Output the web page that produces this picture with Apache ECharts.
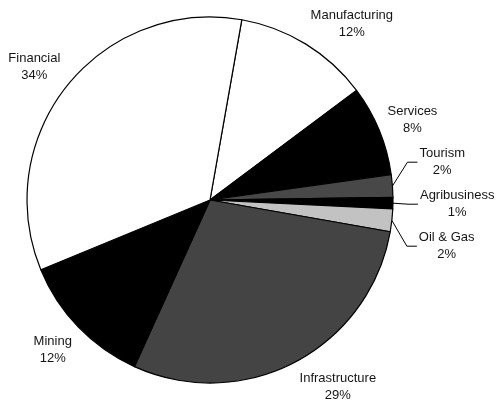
<!DOCTYPE html>
<html>
<head>
<meta charset="utf-8">
<script src="https://cdn.jsdelivr.net/npm/echarts@6/dist/echarts.min.js"></script>
<style>
  html, body { margin: 0; padding: 0; background: #ffffff; }
  #chart { width: 496px; height: 402px; }
</style>
</head>
<body>
<div id="chart"></div>
<script>
// Sector shares of the portfolio, clockwise from just right of 12 o'clock
const sectors = ['Manufacturing', 'Services', 'Tourism', 'Agribusiness', 'Oil & Gas', 'Infrastructure', 'Mining', 'Financial'];
const shares = [12, 8, 2, 1, 2, 29, 12, 34];
const fills = ['#ffffff', '#000000', '#484848', '#000000', '#c2c2c2', '#444444', '#000000', '#ffffff'];

const CX = 210, CY = 200, R = 183, START = 80;
const THIN = 2;          // slices at or below this share get a leader line
const STACK_PITCH = 42;  // vertical spacing of the stacked thin-slice labels

// the thin slices sit next to each other; find where their stack is centred
const thinIdx = shares.map((v, i) => (v <= THIN ? i : -1)).filter(i => i >= 0);
const total = shares.reduce((a, b) => a + b, 0);
const before = shares.slice(0, thinIdx[0]).reduce((a, b) => a + b, 0);
const groupSum = thinIdx.reduce((a, i) => a + shares[i], 0);
const groupMidRad = (90 - START + 360 * (before + groupSum / 2) / total) * Math.PI / 180;
const stackCentreY = CY - R * Math.cos(groupMidRad) + 1;
const stackMid = (thinIdx.length - 1) / 2;

const chart = echarts.init(document.getElementById('chart'), null, { renderer: 'canvas' });

const items = sectors.map((name, i) => ({
  name: name,
  value: shares[i],
  itemStyle: { color: fills[i] },
  labelLine: { show: shares[i] <= THIN }
}));

function layoutLabel(p) {
  const rect = p.labelRect;
  const h = rect.height;
  const k = thinIdx.indexOf(p.dataIndex);
  if (k >= 0 && p.labelLinePoints) {
    // thin slices: elbow leader lines to an evenly spaced stack
    const p0 = p.labelLinePoints[0];
    const y = stackCentreY + (k - stackMid) * STACK_PITCH;
    const x1 = p0[0] + 15;
    const x2 = p0[0] + 25;
    return {
      x: x2 + 2,
      y: y,
      align: 'left',
      verticalAlign: 'middle',
      labelLinePoints: [[p0[0], p0[1]], [x1, y], [x2, y]]
    };
  }
  // other slices: the text box corner nearest the pie sits on the slice's mid ray
  const right = p.align === 'left';
  const ax = right ? rect.x : rect.x + rect.width;
  const ay = rect.y + h / 2;
  const len = Math.hypot(ax - CX, ay - CY) || 1;
  const dirY = (ay - CY) / len;
  const t = Math.max(-1, Math.min(1, dirY * 1.6));
  return { dy: t * h / 2 + 2 };
}

chart.setOption({
  backgroundColor: '#ffffff',
  animation: false,
  series: [{
    type: 'pie',
    center: [CX, CY],
    radius: R,
    startAngle: START,
    clockwise: true,
    avoidLabelOverlap: false,
    data: items,
    itemStyle: { borderColor: '#000000', borderWidth: 1.2 },
    emphasis: { disabled: true },
    label: {
      show: true,
      position: 'outside',
      distanceToLabelLine: 0,
      overflow: 'none',
      formatter: '{t|{b}}\n{t|{c}%}',
      rich: {
        t: {
          align: 'center',
          fontFamily: 'Liberation Sans',
          fontSize: 13,
          lineHeight: 17,
          color: '#151515'
        }
      }
    },
    labelLine: {
      length: 9,
      length2: 0,
      smooth: false,
      lineStyle: { color: '#000000', width: 1 }
    },
    labelLayout: layoutLabel
  }]
});
</script>
</body>
</html>
